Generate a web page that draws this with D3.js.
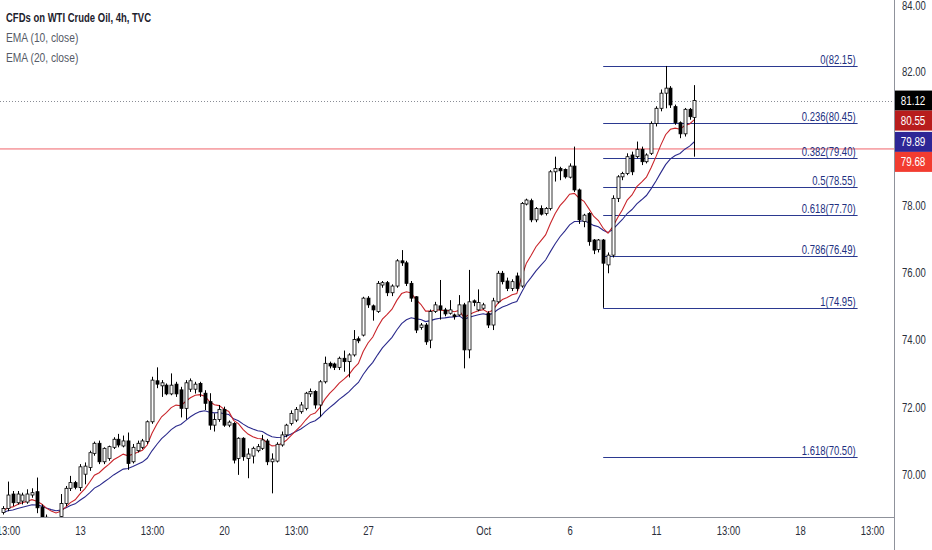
<!DOCTYPE html>
<html><head><meta charset="utf-8">
<script src="https://cdn.jsdelivr.net/npm/d3@7"></script>
<style>
body{margin:0;background:#fff;}
svg{display:block;font-family:"Liberation Sans",Arial,sans-serif;}
</style></head><body>
<svg id="c" width="932" height="550"></svg>
<script>
// ---- data ----
const opens =[68.86,68.98,69.41,69.15,69.20,69.17,69.38,69.48,69.02,68.72,68.45,68.50,68.74,69.13,69.58,69.75,69.60,70.00,70.20,70.62,
70.92,70.37,70.47,70.80,71.04,70.84,70.99,70.37,70.70,70.80,70.97,71.56,72.78,72.63,72.65,72.39,72.68,72.51,71.96,72.53,
72.53,72.70,72.41,72.16,71.46,71.63,71.93,71.46,71.51,70.47,71.07,70.47,70.54,70.70,70.77,70.99,70.37,70.39,70.87,71.17,
71.51,71.61,71.86,71.96,72.39,72.46,72.06,72.75,73.30,73.28,73.18,73.45,73.35,73.55,74.03,74.14,75.24,75.01,74.84,75.63,
75.70,75.40,75.60,76.35,76.29,75.68,75.28,74.37,74.44,73.99,74.84,75.01,74.89,74.79,74.74,74.74,75.04,73.70,75.16,74.89,
74.94,74.79,74.44,75.13,75.98,75.75,75.53,75.90,75.60,78.04,78.14,77.57,77.91,77.76,77.91,79.00,79.10,79.07,78.84,79.17,
78.46,77.52,77.76,76.97,76.69,76.97,76.23,76.52,78.21,78.85,78.95,79.50,79.45,79.67,79.30,79.55,80.44,80.89,81.34,81.49,
80.94,80.46,80.13,80.86,80.62];
const highs =[69.05,69.78,69.50,69.50,69.45,69.55,69.58,69.90,69.10,68.80,68.65,68.72,69.41,69.65,69.95,69.80,70.30,70.35,70.70,70.97,
71.00,70.80,70.85,71.10,71.20,71.15,71.24,70.90,71.00,71.05,71.60,72.90,73.18,72.80,72.70,73.00,72.75,72.60,72.80,72.85,
72.75,72.75,72.50,72.41,71.81,72.06,72.01,71.60,71.55,71.10,71.10,70.77,70.82,70.90,71.17,71.05,70.62,70.95,71.27,71.50,
71.90,72.00,72.15,72.45,72.55,72.50,72.80,73.50,73.35,73.32,73.50,73.68,73.60,74.29,74.10,75.28,75.30,75.05,75.75,75.75,
75.75,75.65,76.40,76.67,76.35,75.75,75.30,74.50,74.50,74.90,75.13,75.78,74.95,75.18,74.78,75.33,75.10,76.08,75.20,75.50,
75.10,74.85,75.25,76.05,76.05,75.85,75.80,76.00,78.10,78.20,78.20,77.95,78.00,77.95,79.05,79.45,79.15,79.10,79.25,79.75,
78.50,77.75,77.80,77.00,77.00,77.00,76.60,78.30,78.90,79.00,79.55,79.60,79.90,79.75,79.55,80.50,80.95,81.45,82.15,81.55,
81.00,80.50,80.90,80.90,81.58];
const lows  =[68.80,68.90,69.05,69.10,69.10,69.12,69.30,68.84,68.50,68.30,68.30,68.40,68.60,69.05,69.50,69.55,69.50,69.70,70.10,70.55,
70.30,70.30,70.40,70.75,70.80,70.80,70.13,70.32,70.65,70.75,70.90,71.50,72.56,72.30,72.35,72.35,72.30,71.69,71.63,72.45,
72.40,72.30,71.91,71.32,71.27,71.56,71.41,71.40,70.32,69.98,70.40,69.88,70.32,70.65,70.72,70.27,69.43,70.35,70.82,71.10,
71.45,71.55,71.80,71.90,72.30,71.95,71.71,72.70,73.15,73.10,73.10,73.05,72.88,73.50,73.90,74.10,74.95,74.57,74.80,75.55,
75.30,75.30,75.55,76.20,75.60,75.13,74.20,74.30,73.85,73.75,74.80,74.60,74.70,74.75,74.60,74.70,73.15,73.45,75.00,74.85,
74.90,74.35,74.29,75.08,75.65,75.45,75.45,75.45,75.55,78.00,77.50,77.50,77.70,77.70,77.85,78.71,78.75,78.80,78.80,78.40,
77.45,77.35,76.80,76.55,76.60,74.95,75.98,76.45,78.10,78.75,78.90,78.90,79.40,79.20,79.25,79.50,80.35,80.80,80.89,80.90,
80.40,80.00,80.05,80.55,79.45];
const closes=[68.98,69.38,69.15,69.41,69.38,69.41,69.45,69.00,68.72,68.45,68.50,68.60,69.13,69.58,69.75,69.61,70.22,70.24,70.64,70.92,
70.37,70.77,70.82,71.04,70.87,70.99,70.32,70.80,70.92,70.99,71.56,72.80,72.68,72.72,72.39,72.65,72.39,71.96,72.72,72.78,
72.68,72.45,72.11,71.46,71.63,71.93,71.46,71.55,70.42,71.07,70.52,70.60,70.77,70.82,71.02,70.37,70.45,70.89,71.17,71.46,
71.81,71.93,72.06,72.41,72.46,72.06,72.75,73.30,73.22,73.18,73.45,73.35,73.55,74.01,73.97,75.24,75.04,74.89,75.68,75.70,
75.40,75.60,76.35,76.29,75.68,75.24,74.29,74.44,73.94,74.84,75.04,74.89,74.77,74.89,74.69,75.04,73.70,75.13,75.11,75.11,
75.04,74.44,75.16,75.98,75.73,75.53,75.73,75.53,78.06,78.16,77.57,77.91,77.74,77.91,79.00,79.10,79.03,78.85,79.17,78.46,
77.57,77.71,76.92,76.67,76.97,76.28,76.52,78.21,78.85,78.95,79.45,79.00,79.67,79.30,79.50,80.44,80.89,81.34,81.49,80.99,
80.46,80.13,80.86,80.64,81.12];

const xTickIdx   =[1,16,31,46,61,76,100,118,136,151,166,181];
const xTickLabels=["13:00","13","13:00","20","13:00","27","Oct","6","11","13:00","18","13:00"];
const yTicks=[70,72,74,76,78,82,84];
const fibRatios=["0","0.236","0.382","0.5","0.618","0.786","1","1.618"];
const fibPrices=[82.15,80.45,79.40,78.55,77.70,76.49,74.95,70.50];
const fibStartIdx=125, fibEndIdx=178;
const hLinePrice=79.68;
const lastPrice=81.12;
const labelValues=[81.12,80.55,79.89,79.68];
const labelColors=["#000000","#b81d1d","#2e2696","#f23c30"];
const legendTexts=["CFDs on WTI Crude Oil, 4h, TVC","EMA (10, close)","EMA (20, close)"];
const emaPeriods=[10,20];
const emaSeeds=[68.90,68.85];

// ---- layout ----
const W=932,H=550, plotR=894, plotB=517, SX=0.76;
const svg=d3.select("#c");
const x=d3.scaleLinear().domain([0,181]).range([3.2,3.2+181*4.8]);
const y=d3.scaleLinear().domain([70,84]).range([474.2,3.8]);

function txt(g,px,py,s,size,fill,anchor,weight){
  return g.append("text").attr("transform",`translate(${px},${py}) scale(${SX},1)`)
    .attr("text-anchor",anchor||"start").attr("font-size",size).attr("fill",fill)
    .attr("font-weight",weight||"normal").text(s);
}

svg.append("defs").append("clipPath").attr("id","pc")
  .append("rect").attr("x",0).attr("y",0).attr("width",plotR).attr("height",plotB);
const plot=svg.append("g").attr("clip-path","url(#pc)");

// horizontal red line & last price dotted line
plot.append("line").attr("x1",0).attr("x2",plotR).attr("y1",y(hLinePrice)).attr("y2",y(hLinePrice))
  .attr("stroke","#f0636a").attr("stroke-width",1);
plot.append("line").attr("x1",0).attr("x2",plotR).attr("y1",Math.round(y(lastPrice))+0.5).attr("y2",Math.round(y(lastPrice))+0.5)
  .attr("stroke","#8a8d96").attr("stroke-width",1).attr("stroke-dasharray","1,2");

// fib
const fibG=plot.append("g");
fibPrices.forEach((p,k)=>{
  const yy=Math.round(y(p))+0.5;
  fibG.append("line").attr("x1",x(fibStartIdx)).attr("x2",x(fibEndIdx)).attr("y1",yy).attr("y2",yy)
    .attr("stroke","#2b3990").attr("stroke-width",1);
  txt(fibG,x(fibEndIdx)-2,yy-3,fibRatios[k]+"("+p.toFixed(2)+")",12.5,"#22307f","end");
});

// EMA
const data=closes.map((c,i)=>({i,o:opens[i],h:highs[i],l:lows[i],c}));
function ema(period,seed){let e=seed;const k=2/(period+1);return closes.map(c=>(e=c*k+e*(1-k)));}
const ema10=ema(emaPeriods[0],emaSeeds[0]), ema20=ema(emaPeriods[1],emaSeeds[1]);
const line=d3.line().x((d,i)=>x(i)).y(d=>y(d));
plot.append("path").attr("d",line(ema20)).attr("fill","none").attr("stroke","#2b2a8c").attr("stroke-width",1.1);
plot.append("path").attr("d",line(ema10)).attr("fill","none").attr("stroke","#c9252b").attr("stroke-width",1.1);

// candles
const cg=plot.append("g");
cg.selectAll("line.w").data(data).join("line")
  .attr("x1",d=>Math.round(x(d.i))+0.5).attr("x2",d=>Math.round(x(d.i))+0.5)
  .attr("y1",d=>y(d.h)).attr("y2",d=>y(d.l)).attr("stroke","#000").attr("stroke-width",1);
cg.selectAll("rect.b").data(data).join("rect")
  .attr("x",d=>Math.round(x(d.i))-1).attr("width",3)
  .attr("y",d=>y(Math.max(d.o,d.c))).attr("height",d=>Math.max(1,Math.abs(y(d.o)-y(d.c))))
  .attr("fill",d=>d.c>=d.o?"#fff":"#000").attr("stroke","#000").attr("stroke-width",0.8);

// axes lines
svg.append("line").attr("x1",plotR+0.5).attr("x2",plotR+0.5).attr("y1",0).attr("y2",H).attr("stroke","#8f929b");
svg.append("line").attr("x1",0).attr("x2",plotR).attr("y1",plotB+0.5).attr("y2",plotB+0.5).attr("stroke","#8f929b");

// y axis labels
const yAx=d3.axisRight(y).tickValues(yTicks).tickFormat(d3.format(".2f")).tickSize(0).tickPadding(0);
const yg=svg.append("g").attr("transform",`translate(${plotR+8},0)`).call(yAx);
yg.select(".domain").remove();
yg.selectAll("text").attr("font-size",12.5).attr("fill","#2a2e39").attr("font-family","Liberation Sans, Arial, sans-serif")
  .attr("transform",d=>`translate(0,${d===84?2:0}) scale(${SX},1)`);

// x axis labels
const xAx=d3.axisBottom(x).tickValues(xTickIdx).tickFormat((d,k)=>xTickLabels[k]).tickSize(0).tickPadding(0);
const xg=svg.append("g").attr("transform",`translate(0,${plotB+9})`).call(xAx);
xg.select(".domain").remove();
xg.selectAll("text").attr("font-size",12.5).attr("fill","#2a2e39").attr("font-family","Liberation Sans, Arial, sans-serif")
  .attr("transform",`scale(${SX},1)`);

// price labels with collision avoidance
let prevY=-1e9;
labelValues.forEach((v,k)=>{
  let cy=y(v); if(cy<prevY+20) cy=prevY+20; prevY=cy;
  svg.append("rect").attr("x",plotR+1).attr("y",cy-10).attr("width",W-plotR-1).attr("height",20).attr("fill",labelColors[k]);
  txt(svg,plotR+19,cy+4.5,v.toFixed(2),13,"#fff","middle");
});

// legend
legendTexts.forEach((t,k)=>{
  txt(svg,6,22+k*20,t,k===0?12.5:13.5,k===0?"#1e222d":"#555a66","start",k===0?"bold":"normal");
});
</script></body></html>
